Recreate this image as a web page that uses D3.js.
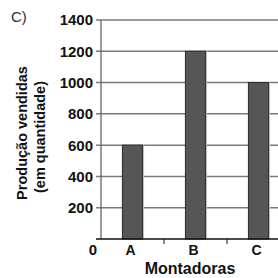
<!DOCTYPE html>
<html><head><meta charset="utf-8">
<script src="https://cdn.jsdelivr.net/npm/d3@7"></script>
<style>body{margin:0;background:#fff}svg{display:block}</style>
</head><body>
<script>
const categories = ["A","B","C"];
const values = [600,1200,1000];
const yTicks = [200,400,600,800,1000,1200,1400];

const W=278,H=278;
const svg=d3.select("body").append("svg").attr("width",W).attr("height",H);
const font="'Liberation Sans', Arial, sans-serif";

const x=d3.scaleBand().domain(categories).range([101,290]).padding(0);
const y=d3.scaleLinear().domain([0,1400]).range([239,20]);

// gridlines
svg.append("g").selectAll("line").data(yTicks).join("line")
  .attr("x1",96).attr("x2",W).attr("y1",d=>y(d)).attr("y2",d=>y(d))
  .attr("stroke","#7a7a7a").attr("stroke-width",1.5);

// y axis line
svg.append("line").attr("x1",101).attr("x2",101).attr("y1",y(1400)).attr("y2",y(0))
  .attr("stroke","#666").attr("stroke-width",1.3);

// bars
const bw=x.bandwidth()*0.32;
const bars=svg.append("g").selectAll("g").data(categories).join("g");
bars.append("rect")
  .attr("x",d=>x(d)+x.bandwidth()/2-bw/2+1.5)
  .attr("y",(d,i)=>y(values[i]))
  .attr("width",bw).attr("height",(d,i)=>y(0)-y(values[i]))
  .attr("fill","#cfcfcf");
bars.append("rect")
  .attr("x",d=>x(d)+x.bandwidth()/2-bw/2)
  .attr("y",(d,i)=>y(values[i]))
  .attr("width",bw).attr("height",(d,i)=>y(0)-y(values[i]))
  .attr("fill","#565656").attr("stroke","#2a2a2a").attr("stroke-width",1);

// baseline
svg.append("line").attr("x1",96).attr("x2",W).attr("y1",y(0)).attr("y2",y(0))
  .attr("stroke","#111").attr("stroke-width",1.3);

// category boundary ticks
svg.append("g").selectAll("line").data(categories.slice(1)).join("line")
  .attr("x1",d=>x(d)).attr("x2",d=>x(d)).attr("y1",y(0)).attr("y2",y(0)+5)
  .attr("stroke","#111").attr("stroke-width",1);

// y tick labels
svg.append("g").selectAll("text").data(yTicks).join("text")
  .attr("x",93).attr("y",d=>y(d)).attr("dy","0.36em")
  .attr("text-anchor","end").attr("font-family",font).attr("font-weight","bold")
  .attr("font-size",15).attr("fill","#111").text(d=>d);
svg.append("text").attr("x",97).attr("y",255).attr("text-anchor","end")
  .attr("font-family",font).attr("font-weight","bold").attr("font-size",15)
  .attr("fill","#111").text("0");

// category labels
svg.append("g").selectAll("text").data(categories).join("text")
  .attr("x",d=>x(d)+x.bandwidth()/2-2).attr("y",255)
  .attr("text-anchor","middle").attr("font-family",font).attr("font-weight","bold")
  .attr("font-size",14).attr("fill","#111").text(d=>d);

// axis titles
svg.append("text").attr("x",190).attr("y",274).attr("text-anchor","middle")
  .attr("font-family",font).attr("font-weight","bold").attr("font-size",16)
  .attr("fill","#111").text("Montadoras");
svg.append("text").attr("transform","translate(27,133) rotate(-90)")
  .attr("text-anchor","middle").attr("font-family",font).attr("font-weight","bold")
  .attr("font-size",14.5).attr("fill","#111").text("Produção vendidas");
svg.append("text").attr("transform","translate(45,137) rotate(-90)")
  .attr("text-anchor","middle").attr("font-family",font).attr("font-weight","bold")
  .attr("font-size",14.5).attr("fill","#111").text("(em quantidade)");

svg.append("text").attr("x",11).attr("y",22).attr("font-family",font)
  .attr("font-size",15).attr("fill","#333").text("C)");
</script>
</body></html>
